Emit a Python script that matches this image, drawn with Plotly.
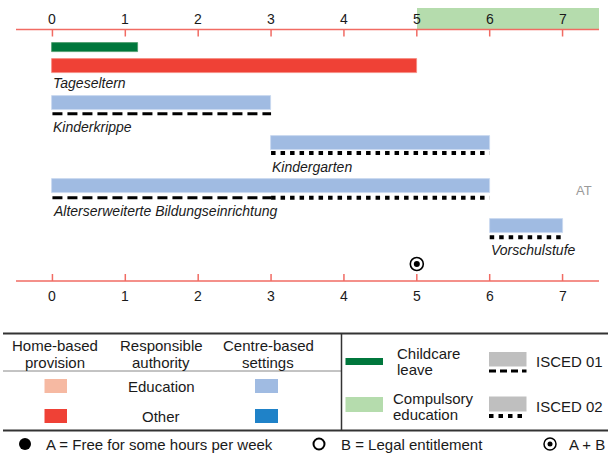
import plotly.graph_objects as go

# ---------------- data ----------------
age_ticks = [0, 1, 2, 3, 4, 5, 6, 7]
settings = ["Tageseltern", "Kinderkrippe", "Kindergarten",
            "Alterserweiterte Bildungseinrichtung", "Vorschulstufe"]
setting_start = [0, 0, 3, 0, 6]
setting_end = [5, 3, 6, 6, 7]
setting_kind = ["home_other", "centre_edu", "centre_edu", "centre_edu", "centre_edu"]
isced01 = [None, (0, 3), None, (0, 3), None]
isced02 = [None, None, (3, 6), (3, 6), (6, 7)]
childcare_leave = (0, 1.18)
compulsory_education = (5, 7.5)
entitlement_ab_age = [5]
country = "AT"

# ---------------- styles / layout ----------------
colors = {
    "home_edu": "#f6b9a2", "home_other": "#ef4136",
    "centre_edu": "#a0bbe2", "centre_other": "#1f82c8",
    "leave": "#00773c", "compulsory": "#b5dcad", "grey": "#bfbfbf",
    "axis": "#f16b63",
}
FONT = "Liberation Sans"
W, H = 608, 456
X_RANGE = [-0.5, 7.5]
X_DOM = [16 / W, 599 / W]
bar_center = [66, 103, 143, 186.3, 226.3]
bar_h = 14
line_y = [None, 113.7, 153, 197.7, 237.3]
label_y = [82.5, 127, 166.5, 211, 250]
DASH = "10px,5px"
DOT = "4.5px,5px"

def XD(px):
    """screen pixel -> x data value on the main axis (for legend markers)"""
    frac = (px / W - X_DOM[0]) / (X_DOM[1] - X_DOM[0])
    return X_RANGE[0] + frac * (X_RANGE[1] - X_RANGE[0])

fig = go.Figure()

# compulsory education band (top)
fig.add_trace(go.Bar(orientation="h", base=[compulsory_education[0]],
                     x=[compulsory_education[1] - compulsory_education[0]],
                     y=[18.5], width=[21], marker=dict(color=colors["compulsory"], line_width=0),
                     hoverinfo="skip", showlegend=False))
# childcare leave
fig.add_trace(go.Bar(orientation="h", base=[childcare_leave[0]],
                     x=[childcare_leave[1] - childcare_leave[0]],
                     y=[47.5], width=[8.5],
                     marker=dict(color=colors["leave"], line=dict(color="#4a9a6a", width=0.8)),
                     hoverinfo="skip", showlegend=False))
# settings
for i, name in enumerate(settings):
    fig.add_trace(go.Bar(orientation="h", base=[setting_start[i]],
                         x=[setting_end[i] - setting_start[i]],
                         y=[bar_center[i]], width=[bar_h],
                         marker=dict(color=colors[setting_kind[i]],
                                     line=dict(color="#c8d8ef" if "centre" in setting_kind[i] else "#f58a80", width=0.8)),
                         hoverinfo="skip", showlegend=False))
    if isced01[i]:
        a, b = isced01[i]
        fig.add_trace(go.Scatter(x=[a, b], y=[line_y[i], line_y[i]], mode="lines",
                                 line=dict(color="black", width=3, dash=DASH),
                                 hoverinfo="skip", showlegend=False))
    if isced02[i]:
        a, b = isced02[i]
        fig.add_trace(go.Scatter(x=[a, b], y=[line_y[i], line_y[i]], mode="lines",
                                 line=dict(color="black", width=4, dash=DOT),
                                 hoverinfo="skip", showlegend=False))
    fig.add_annotation(x=setting_start[i], y=label_y[i], text="<i>" + name + "</i>",
                       showarrow=False, xanchor="left", yanchor="middle", xshift=-1,
                       font=dict(family=FONT, size=14, color="#1a1a1a"))

# A+B marker
fig.add_trace(go.Scatter(x=entitlement_ab_age, y=[264] * len(entitlement_ab_age), mode="markers",
                         marker=dict(symbol="circle-open", size=13, color="black", line=dict(width=1.6)),
                         hoverinfo="skip", showlegend=False))
fig.add_trace(go.Scatter(x=entitlement_ab_age, y=[264] * len(entitlement_ab_age), mode="markers",
                         marker=dict(symbol="circle", size=6, color="black"),
                         hoverinfo="skip", showlegend=False))

shapes = []
# axis lines (top and bottom)
for ay, tdir in [(29.5, 1), (281, -1)]:
    shapes.append(dict(type="line", xref="x", yref="y", x0=X_RANGE[0], x1=X_RANGE[1], y0=ay, y1=ay,
                       line=dict(color=colors["axis"], width=1.5)))
    for t in age_ticks:
        shapes.append(dict(type="line", xref="x", yref="y", x0=t, x1=t, y0=ay, y1=ay + 7 * tdir,
                           line=dict(color=colors["axis"], width=1.5)))
        fig.add_annotation(x=t, y=ay - 11 if tdir == 1 else ay + 15, text=str(t), showarrow=False,
                           xanchor="center", yanchor="middle",
                           font=dict(family=FONT, size=14, color="#1a1a1a"))

fig.add_annotation(x=584 / W, xref="paper", y=190, text=country, showarrow=False,
                   xanchor="center", yanchor="middle", font=dict(family=FONT, size=13, color="#9a9a9a"))

# ---------------- legend ----------------
def P(px):
    return px / W

def txt(x, y, s, anchor="center", size=15):
    fig.add_annotation(x=P(x), xref="paper", y=y, yref="y", text=s, showarrow=False,
                       xanchor=anchor, yanchor="middle",
                       font=dict(family=FONT, size=size, color="#1a1a1a"))

def rect(x0, x1, y0, y1, color):
    shapes.append(dict(type="rect", xref="paper", yref="y", x0=P(x0), x1=P(x1), y0=y0, y1=y1,
                       fillcolor=color, line=dict(width=0), layer="above"))

def hline(x0, x1, y, color="#333333", width=1.5, dash=None):
    d = dict(type="line", xref="paper", yref="y", x0=P(x0), x1=P(x1), y0=y, y1=y,
             line=dict(color=color, width=width))
    if dash:
        d["line"]["dash"] = dash
    shapes.append(d)

hline(3, 608, 333.5, width=2)
hline(3, 341, 371, color="#888888", width=1)
hline(3, 608, 430.5, width=2)
shapes.append(dict(type="line", xref="paper", yref="y", x0=P(341.5), x1=P(341.5), y0=333.5, y1=430.5,
                   line=dict(color="#333333", width=1.5)))

txt(55, 345.5, "Home-based"); txt(55, 362, "provision")
txt(161, 345.5, "Responsible"); txt(161, 362, "authority")
txt(268, 345.5, "Centre-based"); txt(268, 362, "settings")
txt(161, 386, "Education"); txt(161, 416, "Other")
rect(44.5, 67, 379, 393, colors["home_edu"])
rect(44.5, 67, 409, 423, colors["home_other"])
rect(255, 278, 379, 393, colors["centre_edu"])
rect(255, 278, 409, 423, colors["centre_other"])

hline(345.5, 383, 361.5, color=colors["leave"], width=7)
txt(395, 353, "Childcare", "left"); txt(395, 369.5, "leave", "left")
rect(345.5, 383, 397, 412, colors["compulsory"])
txt(391, 398.5, "Compulsory", "left"); txt(391, 414.5, "education", "left")

rect(489, 526.5, 352, 366.5, colors["grey"])
hline(489, 526.5, 371, color="black", width=3, dash="7px,4px")
txt(534, 361.5, "ISCED 01", "left")
rect(489, 526.5, 396.5, 411.5, colors["grey"])
hline(489, 526.5, 416, color="black", width=4, dash=DOT)
txt(534, 406, "ISCED 02", "left")

# bottom markers line
fig.add_trace(go.Scatter(x=[XD(25)], y=[444], mode="markers", cliponaxis=False,
                         marker=dict(symbol="circle", size=12, color="black"),
                         hoverinfo="skip", showlegend=False))
fig.add_trace(go.Scatter(x=[XD(319)], y=[444], mode="markers", cliponaxis=False,
                         marker=dict(symbol="circle-open", size=11, color="black", line=dict(width=2)),
                         hoverinfo="skip", showlegend=False))
fig.add_trace(go.Scatter(x=[XD(550)], y=[444], mode="markers", cliponaxis=False,
                         marker=dict(symbol="circle-open", size=12, color="black", line=dict(width=1.5)),
                         hoverinfo="skip", showlegend=False))
fig.add_trace(go.Scatter(x=[XD(550)], y=[444], mode="markers", cliponaxis=False,
                         marker=dict(symbol="circle", size=5, color="black"),
                         hoverinfo="skip", showlegend=False))
txt(44, 444, "A = Free for some hours per week", "left")
txt(339, 444, "B = Legal entitlement", "left")
txt(567, 444, "A + B", "left")

fig.update_layout(
    width=W, height=H, margin=dict(l=0, r=0, t=0, b=0),
    paper_bgcolor="white", plot_bgcolor="white", barmode="overlay", bargap=0,
    xaxis=dict(range=X_RANGE, domain=X_DOM, visible=False, fixedrange=True),
    yaxis=dict(range=[H, 0], domain=[0, 1], visible=False, fixedrange=True),
    shapes=shapes, showlegend=False,
)
fig.write_html("out.html", config={"displayModeBar": False},
               post_script="document.body.style.margin='0px';document.body.style.overflow='hidden';")
